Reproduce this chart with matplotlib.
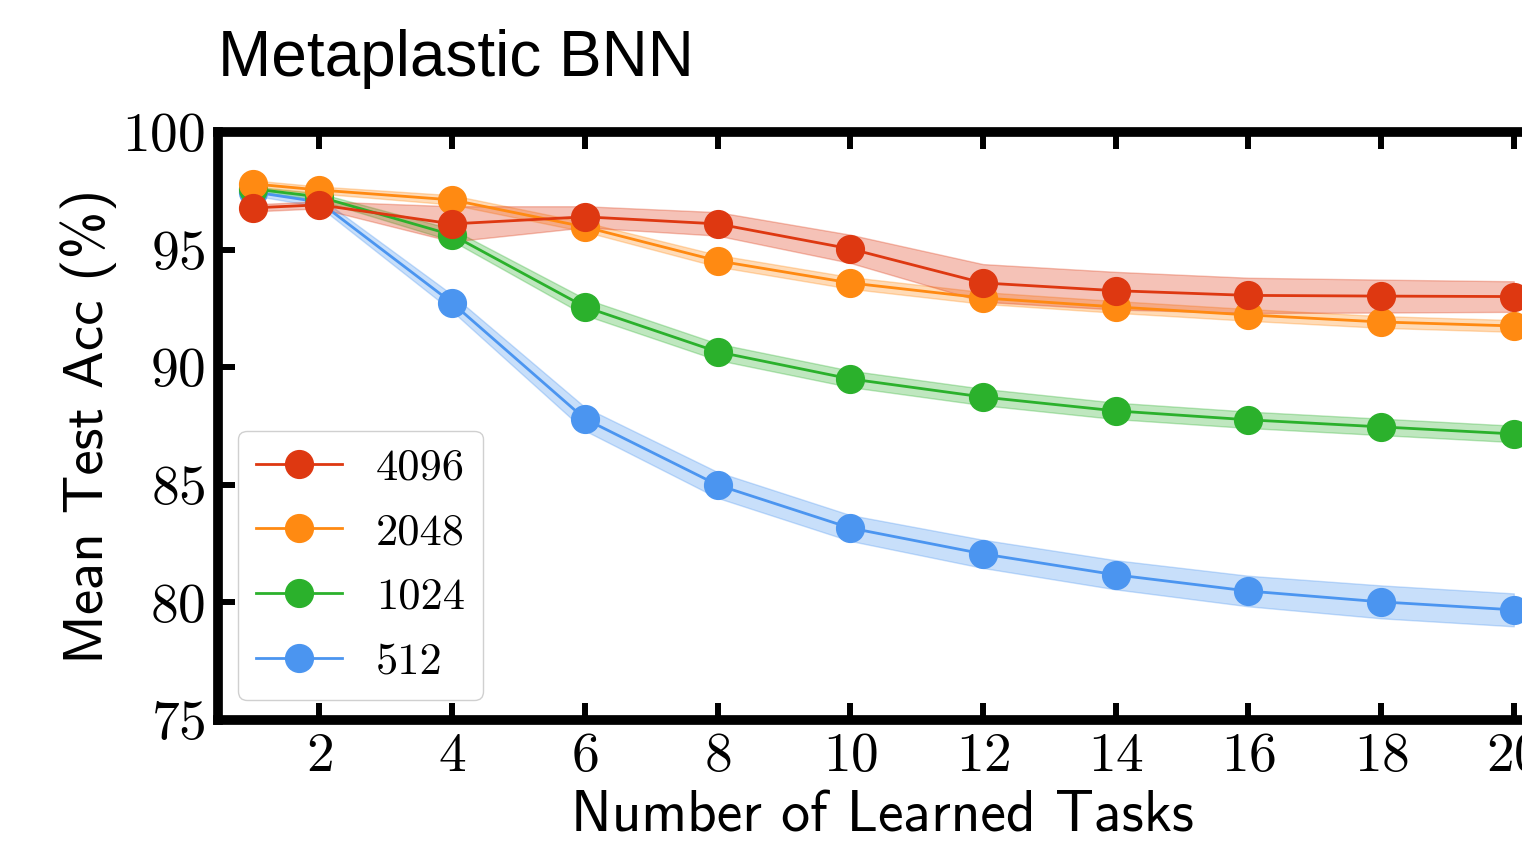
import numpy as np
import matplotlib
matplotlib.use("Agg")
from matplotlib import pyplot as plt

plt.rcParams['axes.formatter.use_mathtext'] = True
plt.rcParams['mathtext.fontset'] = 'cm'

tasks = [1, 2, 4, 6, 8, 10, 12, 14, 16, 18, 20]

labels = ['4096', '2048', '1024', '512']
colors = ['#de3811', '#ff8a12', '#2bb12c', '#4b95f0']

acc_4096 = [96.77, 96.90, 96.09, 96.39, 96.09, 95.03, 93.58, 93.25, 93.05, 93.02, 93.0]
std_4096 = [0.15, 0.15, 0.75, 0.45, 0.5, 0.6, 0.8, 0.8, 0.75, 0.7, 0.65]

acc_2048 = [97.79, 97.53, 97.11, 95.96, 94.52, 93.58, 92.94, 92.56, 92.22, 91.92, 91.75]
std_2048 = [0.15, 0.15, 0.2, 0.2, 0.25, 0.25, 0.25, 0.25, 0.25, 0.25, 0.25]

acc_1024 = [97.58, 97.24, 95.62, 92.56, 90.65, 89.50, 88.73, 88.14, 87.76, 87.46, 87.16]
std_1024 = [0.1, 0.15, 0.25, 0.35, 0.35, 0.35, 0.35, 0.35, 0.35, 0.35, 0.35]

acc_512 = [97.45, 97.02, 92.73, 87.80, 84.99, 83.16, 82.06, 81.17, 80.48, 80.02, 79.68]
std_512 = [0.15, 0.2, 0.35, 0.5, 0.55, 0.55, 0.6, 0.62, 0.65, 0.7, 0.7]

series = [acc_4096, acc_2048, acc_1024, acc_512]
stds = [std_4096, std_2048, std_1024, std_512]

fig = plt.figure(figsize=(15.22, 8.44), dpi=100)
ax = fig.add_axes([0.1432, 0.147, 0.8732, 0.6967])

handles = [None] * 4
# draw smallest first so 4096 sits on top
for i in [3, 2, 1, 0]:
    y = np.array(series[i])
    s = np.array(stds[i])
    ax.fill_between(tasks, y - s, y + s, color=colors[i], alpha=0.3, lw=1)
    h, = ax.plot(tasks, y, '-o', color=colors[i], lw=2, markersize=20, label=labels[i])
    handles[i] = h

ax.set_xlim(0.47, 20.5)
ax.set_ylim(75, 100)
ax.set_xticks([2, 4, 6, 8, 10, 12, 14, 16, 18, 20])
ax.set_yticks([75, 80, 85, 90, 95, 100])

for sp in ax.spines.values():
    sp.set_linewidth(7)
ax.tick_params(direction='in', top=True, right=True, length=12, width=4.3, pad=9)
for lab in ax.get_xticklabels() + ax.get_yticklabels():
    lab.set_family('cmr10')
    lab.set_fontsize(40)

ax.set_xlabel('Number of Learned Tasks', family='cmss10', fontsize=41.5, labelpad=6)
ax.set_ylabel('Mean Test Acc (%)', family='cmss10', fontsize=41, labelpad=4)
ax.set_title('Metaplastic BNN', loc='left', family='Liberation Sans', fontsize=46, pad=40)

leg = ax.legend(handles=handles, loc='lower left', prop={'family': 'cmr10', 'size': 32},
                handlelength=1.95, handletextpad=0.75, labelspacing=0.55,
                borderaxespad=0.45, borderpad=0.4, fancybox=True, framealpha=1)
leg.get_frame().set_edgecolor('#d0d0d0')

fig.savefig('out.png', dpi=100)
